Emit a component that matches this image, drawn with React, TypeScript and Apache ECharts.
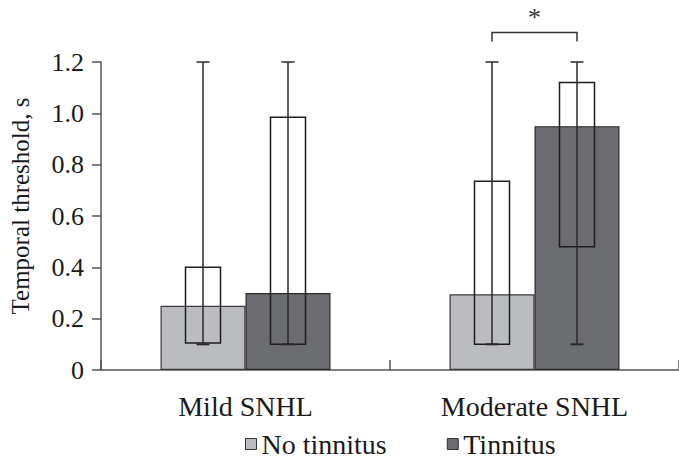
import React, { useEffect, useRef } from "react";
import * as echarts from "echarts";

const categories = ["Mild SNHL", "Moderate SNHL"];

// bar heights (median-like values)
const noTinnitusBar = [0.25, 0.295];
const tinnitusBar = [0.3, 0.95];

// box (lower, upper) and whiskers (min, max)
const noTinnitusBoxLow = [0.105, 0.1];
const noTinnitusBoxHigh = [0.4, 0.735];
const noTinnitusMin = [0.1, 0.1];
const noTinnitusMax = [1.2, 1.2];

const tinnitusBoxLow = [0.1, 0.48];
const tinnitusBoxHigh = [0.985, 1.12];
const tinnitusMin = [0.1, 0.1];
const tinnitusMax = [1.2, 1.2];

// significance bracket over Moderate SNHL
const sigCategory = [1];
const sigBracketLow = [1.28];
const sigBracketHigh = [1.315];
const sigLabel = ["*"];

const FONT = "'Liberation Serif', 'Times New Roman', serif";
const BAR_W = 85;
const BOX_W = 35;
const CAP_W = 13;
const LIGHT = "#bbbcc0";
const DARK = "#6c6d71";
const TEXT = "#1a1a1a";

function makeBoxRenderer(offset: number) {
  return (params: any, api: any) => {
    const cat = api.value(0);
    const x = api.coord([cat, 0])[0] + offset;
    const yLow = api.coord([cat, api.value(1)])[1];
    const yHigh = api.coord([cat, api.value(2)])[1];
    const yMin = api.coord([cat, api.value(3)])[1];
    const yMax = api.coord([cat, api.value(4)])[1];
    const stroke = "#1e1e1e";
    return {
      type: "group",
      children: [
        {
          type: "rect",
          shape: { x: x - BOX_W / 2, y: yHigh, width: BOX_W, height: yLow - yHigh },
          style: { fill: "none", stroke, lineWidth: 1.5 },
        },
        {
          type: "line",
          shape: { x1: x, y1: yMax, x2: x, y2: yMin },
          style: { stroke: "#2a2a2a", lineWidth: 1.5 },
        },
        {
          type: "line",
          shape: { x1: x - CAP_W / 2, y1: yMax, x2: x + CAP_W / 2, y2: yMax },
          style: { stroke: "#2a2a2a", lineWidth: 1.5 },
        },
        {
          type: "line",
          shape: { x1: x - CAP_W / 2, y1: yMin, x2: x + CAP_W / 2, y2: yMin },
          style: { stroke: "#2a2a2a", lineWidth: 2 },
        },
      ],
    };
  };
}

export default function App() {
  const ref = useRef<HTMLDivElement>(null);
  useEffect(() => {
    if (!ref.current) return;
    const chart = echarts.init(ref.current, undefined, { renderer: "svg" });
    const boxData = (lo: number[], hi: number[], mn: number[], mx: number[]) =>
      categories.map((_, i) => [i, lo[i], hi[i], mn[i], mx[i]]);
    const option: any = {
      animation: false,
      backgroundColor: "#ffffff",
      grid: { left: 97, right: -9, top: 62, bottom: 92, containLabel: false },
      legend: {
        data: [
          { name: "No tinnitus", itemStyle: { color: LIGHT, borderColor: "#333", borderWidth: 1 } },
          { name: "Tinnitus", itemStyle: { color: DARK, borderColor: "#333", borderWidth: 1 } },
        ],
        left: 240,
        top: 425,
        icon: "rect",
        itemWidth: 11,
        itemHeight: 11,
        itemGap: 60,
        textStyle: { fontFamily: FONT, fontSize: 28, color: TEXT },
      },
      xAxis: {
        type: "category",
        data: categories,
        axisLine: { lineStyle: { color: "#555", width: 1.5 } },
        axisTick: { show: true, inside: true, length: 10, lineStyle: { color: "#555", width: 1.5 } },
        axisLabel: { fontFamily: FONT, fontSize: 28, color: TEXT, margin: 22 },
      },
      yAxis: {
        type: "value",
        min: 0,
        max: 1.2,
        interval: 0.2,
        name: "Temporal threshold, s",
        nameLocation: "middle",
        nameRotate: 90,
        nameGap: 68,
        nameTextStyle: { fontFamily: FONT, fontSize: 25, color: TEXT, padding: [0, 0, 0, 20] },
        axisLine: { show: true, lineStyle: { color: "#555", width: 1.5 } },
        axisTick: { show: true, inside: false, length: 9, lineStyle: { color: "#555", width: 1.5 } },
        splitLine: { show: false },
        axisLabel: {
          fontFamily: FONT,
          fontSize: 26,
          color: TEXT,
          margin: 17,
          formatter: (v: number) => (v === 0 ? "0" : v.toFixed(1)),
        },
      },
      series: [
        {
          name: "No tinnitus",
          type: "bar",
          data: noTinnitusBar,
          barWidth: BAR_W,
          barGap: "0%",
          itemStyle: { color: LIGHT, borderColor: "#3a3a3a", borderWidth: 1.2 },
          z: 2,
        },
        {
          name: "Tinnitus",
          type: "bar",
          data: tinnitusBar,
          barWidth: BAR_W,
          barGap: "0%",
          itemStyle: { color: DARK, borderColor: "#2a2a2a", borderWidth: 1.2 },
          z: 2,
        },
        {
          name: "box-no",
          type: "custom",
          renderItem: makeBoxRenderer(-BAR_W / 2),
          data: boxData(noTinnitusBoxLow, noTinnitusBoxHigh, noTinnitusMin, noTinnitusMax),
          encode: { x: 0, y: [1, 2, 3, 4] },
          z: 5,
          silent: true,
        },
        {
          name: "box-yes",
          type: "custom",
          renderItem: makeBoxRenderer(BAR_W / 2),
          data: boxData(tinnitusBoxLow, tinnitusBoxHigh, tinnitusMin, tinnitusMax),
          encode: { x: 0, y: [1, 2, 3, 4] },
          z: 5,
          silent: true,
        },
        {
          name: "sig",
          type: "custom",
          clip: false,
          silent: true,
          data: sigCategory.map((c, i) => [c, sigBracketLow[i], sigBracketHigh[i]]),
          encode: { x: 0, y: [1, 2] },
          renderItem: (params: any, api: any) => {
            const cat = api.value(0);
            const cx = api.coord([cat, 0])[0];
            const yLow = api.coord([cat, api.value(1)])[1];
            const yHigh = api.coord([cat, api.value(2)])[1];
            const x1 = cx - BAR_W / 2;
            const x2 = cx + BAR_W / 2;
            return {
              type: "group",
              children: [
                {
                  type: "polyline",
                  shape: { points: [[x1, yLow], [x1, yHigh], [x2, yHigh], [x2, yLow]] },
                  style: { stroke: "#333", lineWidth: 1.5, fill: "none" },
                },
                {
                  type: "text",
                  style: {
                    text: sigLabel[params.dataIndex],
                    x: cx,
                    y: yHigh - 2,
                    align: "center",
                    verticalAlign: "bottom",
                    fontFamily: FONT,
                    fontSize: 26,
                    fill: "#333",
                  },
                },
              ],
            };
          },
        },
      ],
    };
    chart.setOption(option);
    return () => chart.dispose();
  }, []);
  return <div ref={ref} style={{ width: 679, height: 462, position: "absolute", left: 0, top: 0 }} />;
}
